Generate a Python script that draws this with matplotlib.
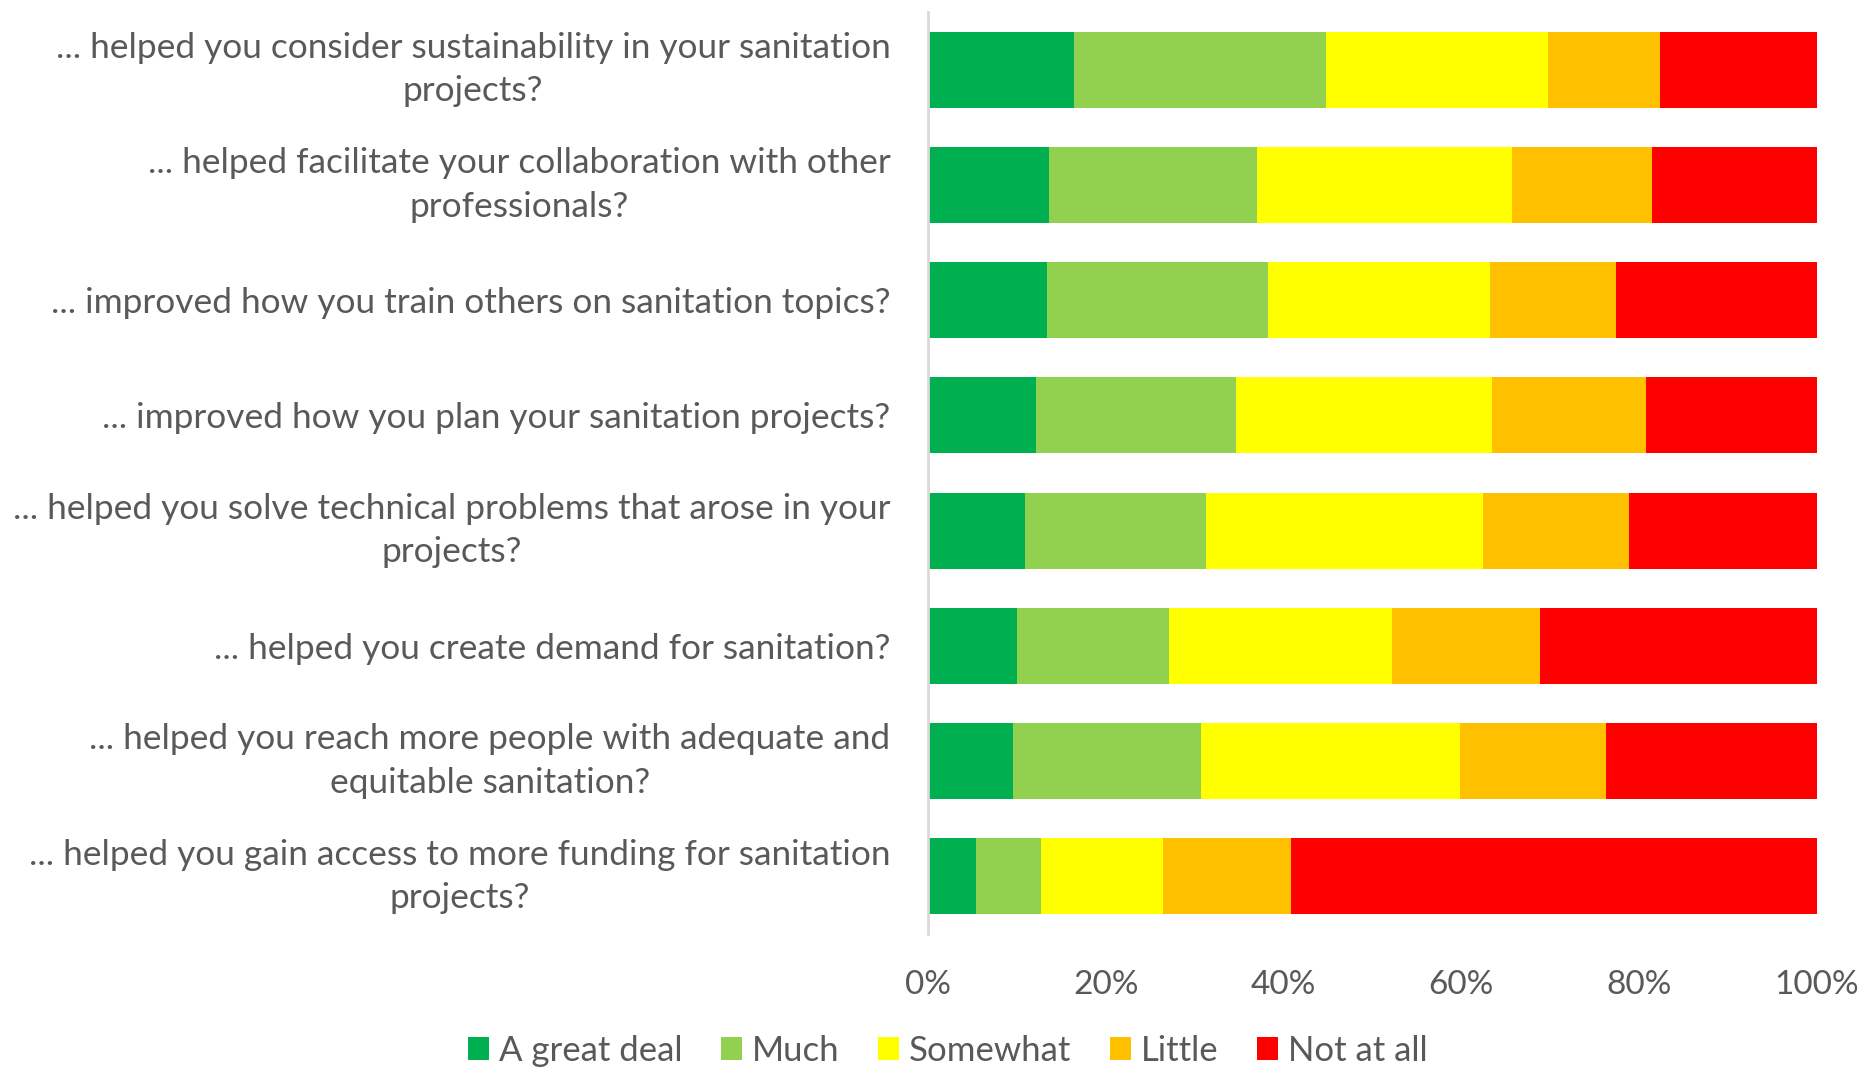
import matplotlib.pyplot as plt
import numpy as np

plt.rcParams['font.family'] = ['Lato', 'DejaVu Sans']

questions = [
    "... helped you consider sustainability in your sanitation\nprojects?",
    "... helped facilitate your collaboration with other\nprofessionals?",
    "... improved how you train others on sanitation topics?",
    "... improved how you plan your sanitation projects?",
    "... helped you solve technical problems that arose in your\nprojects?",
    "... helped you create demand for sanitation?",
    "... helped you reach more people with adequate and\nequitable sanitation?",
    "... helped you gain access to more funding for sanitation\nprojects?",
]
categories = ["A great deal", "Much", "Somewhat", "Little", "Not at all"]
colors = ["#00B050", "#92D050", "#FFFF00", "#FFC000", "#FF0000"]

great_deal = [16.4, 13.6, 13.4, 12.2, 10.9, 10.0, 9.6, 5.4]
much = [28.4, 23.4, 24.8, 22.5, 20.4, 17.1, 21.1, 7.3]
somewhat = [24.9, 28.7, 25.0, 28.8, 31.1, 25.1, 29.2, 13.7]
little = [12.6, 15.7, 14.2, 17.3, 16.5, 16.7, 16.4, 14.4]
not_at_all = [17.7, 18.6, 22.6, 19.2, 21.1, 31.1, 23.7, 59.2]
series = [great_deal, much, somewhat, little, not_at_all]

fig = plt.figure(figsize=(18.66, 10.70), dpi=100)
ax = fig.add_axes([0.4973, 0.1271, 0.4764, 0.8617])

y = np.arange(len(questions))
left = np.zeros(len(questions))
for vals, name, c in zip(series, categories, colors):
    vals = np.array(vals)
    ax.barh(y, vals, left=left, height=0.66, color=c, label=name)
    left += vals

ax.set_ylim(len(questions) - 0.5, -0.5)
ax.set_xlim(0, 100)
ax.set_xticks([0, 20, 40, 60, 80, 100])
ax.set_xticklabels([f"{v}%" for v in [0, 20, 40, 60, 80, 100]])
ax.set_yticks(y)
ax.set_yticklabels(questions)

for s in ['top', 'right', 'bottom']:
    ax.spines[s].set_visible(False)
ax.spines['left'].set_color('#d9d9d9')
ax.spines['left'].set_linewidth(2)
ax.tick_params(axis='both', length=0, labelcolor='#595959')
ax.tick_params(axis='x', pad=26, labelsize=24)
ax.tick_params(axis='y', pad=27, labelsize=25.4)
for lbl in ax.get_yticklabels():
    lbl.set_multialignment('center')
    lbl.set_linespacing(1.45)
    if '\n' in lbl.get_text():
        lbl.set_verticalalignment('center')

fig.legend(loc='center', bbox_to_anchor=(0.508, 0.018), ncol=5, frameon=False,
           fontsize=25, labelcolor='#595959', handlelength=0.6, handleheight=0.6,
           handletextpad=0.3, columnspacing=1.1)

fig.savefig('out.png', dpi=100)
